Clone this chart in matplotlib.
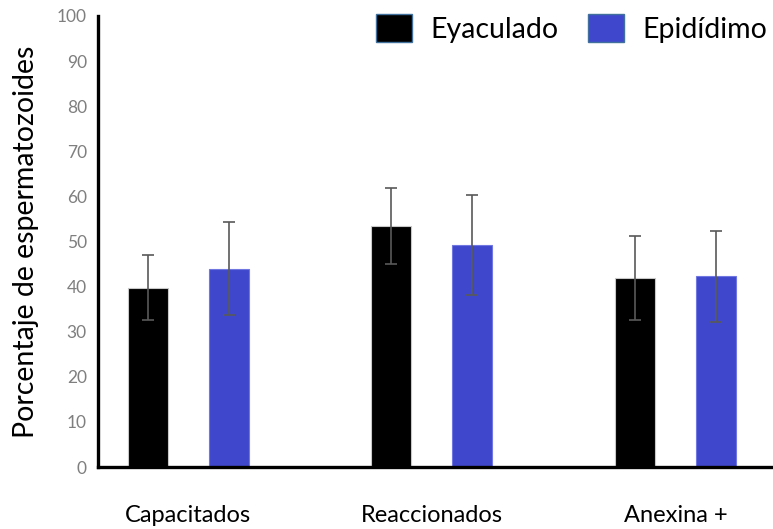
import numpy as np
import matplotlib.pyplot as plt
from matplotlib.patches import Patch

categories = ['Capacitados', 'Reaccionados', 'Anexina +']
eyaculado = [39.8, 53.5, 42.0]
eyaculado_err = [7.3, 8.4, 9.3]
epididimo = [44.0, 49.2, 42.3]
epididimo_err = [10.4, 11.0, 10.1]

plt.rcParams['font.family'] = ['Lato', 'DejaVu Sans']

fig = plt.figure(figsize=(7.73, 5.29), dpi=100)
ax = fig.add_axes([98 / 773, 62 / 529, 675 / 773, 451 / 529])

x = np.arange(len(categories))
w = 0.164
off = 0.166
blue = '#3F48CC'

ax.bar(x - off, eyaculado, w, color='black', edgecolor='#c8c8c8', linewidth=0.8,
       yerr=eyaculado_err, error_kw=dict(ecolor='#595959', elinewidth=1.2, capsize=4, capthick=1.2))
ax.bar(x + off, epididimo, w, color=blue, edgecolor='#7077e0', linewidth=0.8,
       yerr=epididimo_err, error_kw=dict(ecolor='#595959', elinewidth=1.2, capsize=4, capthick=1.2))

ax.set_xlim(-0.37, 2.4)
ax.set_ylim(0, 100)
ax.set_yticks(range(0, 101, 10))
ax.set_xticks(x)
ax.set_xticklabels(categories, fontsize=17)
ax.tick_params(axis='x', length=0, pad=27)
ax.tick_params(axis='y', length=0, pad=8, labelsize=12.5, labelcolor='#7f7f7f')

for s in ['top', 'right']:
    ax.spines[s].set_visible(False)
for s in ['left', 'bottom']:
    ax.spines[s].set_linewidth(2.4)
    ax.spines[s].set_color('black')

ax.set_ylabel('Porcentaje de espermatozoides', fontsize=20.5)
ax.yaxis.set_label_coords(-0.087, 0.5)

handles = [Patch(facecolor='black', edgecolor='#41719C', label='Eyaculado'),
           Patch(facecolor=blue, edgecolor='#41719C', label='Epidídimo')]
ax.legend(handles=handles, loc='upper right', bbox_to_anchor=(1.008, 1.03), ncol=2,
          frameon=False, fontsize=20.5, handlelength=1.25, handleheight=1.15,
          handletextpad=0.65, columnspacing=1.05, borderaxespad=0)

fig.savefig('out.png', dpi=100)
